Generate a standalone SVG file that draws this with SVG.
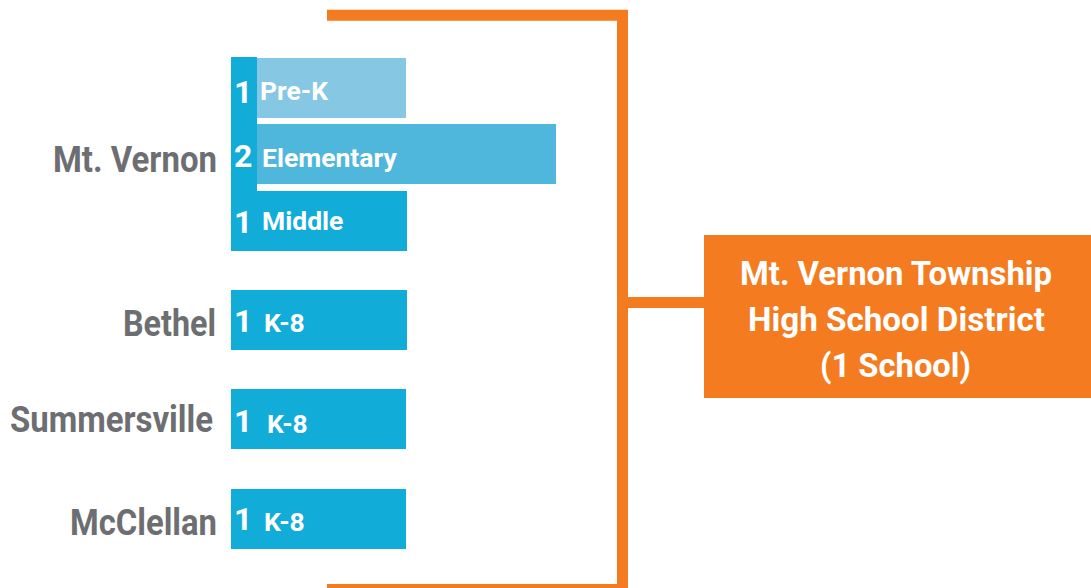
<svg xmlns="http://www.w3.org/2000/svg" width="1091" height="588" viewBox="0 0 1091 588">
<style>
.lbl{font-family:"Roboto","Liberation Sans",sans-serif;font-weight:700;fill:#6d6e71;font-size:37px}
.num{font-family:"Roboto","Liberation Sans",sans-serif;font-weight:700;fill:#ffffff;font-size:32px}
.txt{font-family:"Roboto","Liberation Sans",sans-serif;font-weight:700;fill:#ffffff;font-size:26.5px}
.hs{font-family:"Roboto","Liberation Sans",sans-serif;font-weight:700;fill:#ffffff;font-size:33px}
.b{fill:#12acd8}
.conn{fill:none;stroke:#f47b20;stroke-width:11}
</style>
<rect width="1091" height="588" fill="#ffffff"/>
<g id="connectors">
<path class="conn" d="M327,15.3 H622.5 V589.5 H327"/>
<path class="conn" d="M622.5,302.5 H705"/>
</g>
<g id="mtvernon">
<text class="lbl" x="53" y="172" textLength="164" lengthAdjust="spacingAndGlyphs">Mt. Vernon</text>
<rect x="257" y="58" width="149" height="60" fill="#86c7e4"/>
<rect x="257" y="124" width="299" height="60" fill="#4fb6dc"/>
<rect class="b" x="231" y="191" width="176" height="60"/>
<rect class="b" x="231" y="57" width="26" height="194"/>
<text class="num" x="234" y="103">1</text>
<text class="txt" x="260" y="100">Pre-K</text>
<text class="num" x="234" y="167">2</text>
<text class="txt" x="262" y="167">Elementary</text>
<text class="num" x="234" y="233">1</text>
<text class="txt" x="262" y="230">Middle</text>
</g>
<g id="bethel">
<text class="lbl" x="123" y="336" textLength="93" lengthAdjust="spacingAndGlyphs">Bethel</text>
<rect class="b" x="231" y="290" width="176" height="60"/>
<text class="num" x="234" y="332">1</text>
<text class="txt" x="264" y="332">K-8</text>
</g>
<g id="summersville">
<text class="lbl" x="10" y="432" textLength="203" lengthAdjust="spacingAndGlyphs">Summersville</text>
<rect class="b" x="231" y="389" width="175" height="60"/>
<text class="num" x="234" y="432">1</text>
<text class="txt" x="267" y="433">K-8</text>
</g>
<g id="mcclellan">
<text class="lbl" x="70" y="535" textLength="147" lengthAdjust="spacingAndGlyphs">McClellan</text>
<rect class="b" x="231" y="489" width="175" height="60"/>
<text class="num" x="234" y="530">1</text>
<text class="txt" x="264" y="531">K-8</text>
</g>
<g id="district">
<rect x="704" y="235" width="387" height="163" fill="#f47b20"/>
<text class="hs" x="740" y="285" textLength="312" lengthAdjust="spacingAndGlyphs">Mt. Vernon Township</text>
<text class="hs" x="748" y="331" textLength="297" lengthAdjust="spacingAndGlyphs">High School District</text>
<text class="hs" x="820" y="377" textLength="151" lengthAdjust="spacingAndGlyphs">(1 School)</text>
</g>
</svg>
